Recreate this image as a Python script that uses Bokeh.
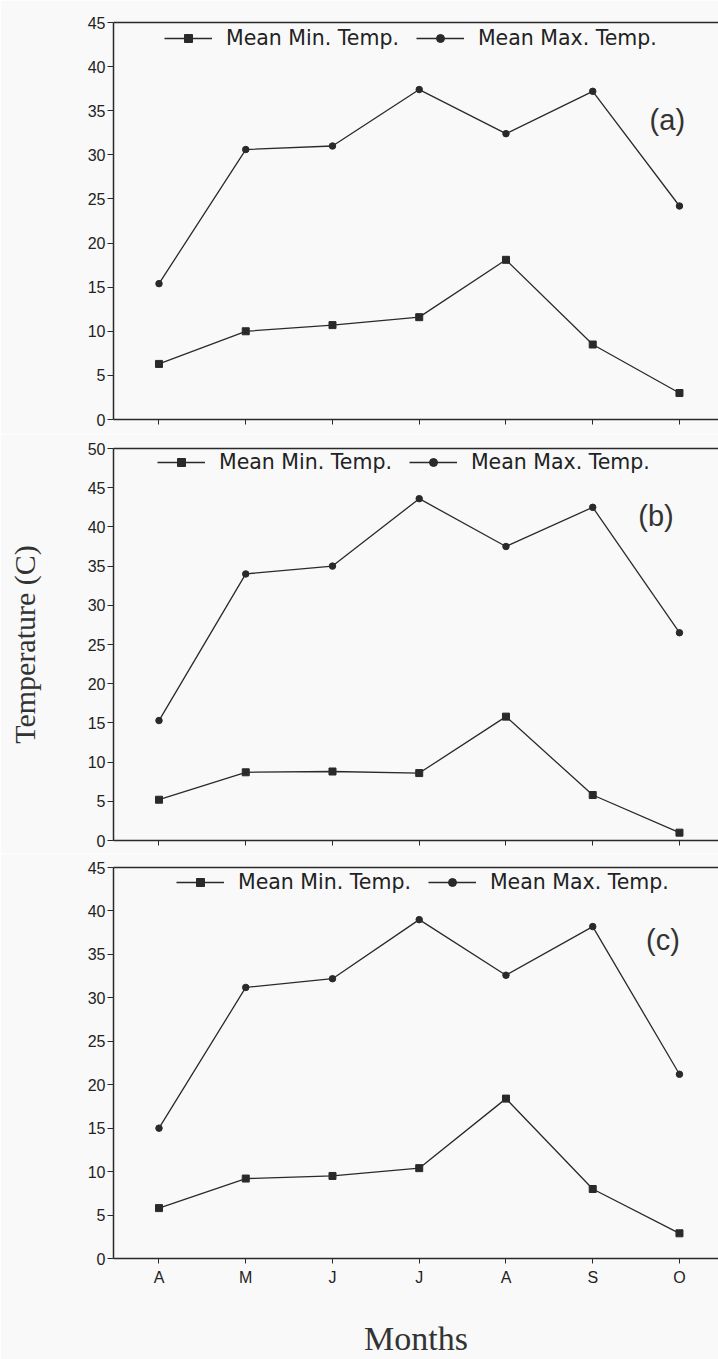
from bokeh.embed import file_html
from bokeh.layouts import column
from bokeh.models import (FixedTicker, Label, Legend, LegendItem, LinearAxis,
                          Range1d)
from bokeh.plotting import figure
from bokeh.resources import INLINE

# Monthly mean temperatures (deg C), April to October
months = ["A", "M", "J", "J", "A", "S", "O"]

a_min = [6.3, 10.0, 10.7, 11.6, 18.1, 8.5, 3.0]
a_max = [15.4, 30.6, 31.0, 37.4, 32.4, 37.2, 24.2]

b_min = [5.2, 8.7, 8.8, 8.6, 15.8, 5.8, 1.0]
b_max = [15.3, 34.0, 35.0, 43.6, 37.5, 42.5, 26.5]

c_min = [5.8, 9.2, 9.5, 10.4, 18.4, 8.0, 2.9]
c_max = [15.0, 31.2, 32.2, 39.0, 32.6, 38.2, 21.2]

BG = "#f9f9f9"
INK = "#2a2a2a"
TICK_FONT = "Liberation Sans"
LEGEND_FONT = "DejaVu Sans"
SERIF = "Liberation Serif"


def make_panel(mins, maxs, ymax, height, top, bottom, legend_xy, tag, tag_xy,
               show_months):
    x = list(range(len(months)))
    p = figure(width=718, height=height,
               x_range=Range1d(-0.5245, 6.45), y_range=Range1d(0, ymax),
               output_backend="svg", toolbar_location=None,
               min_border_left=113, min_border_right=0,
               min_border_top=top, min_border_bottom=bottom,
               background_fill_color=BG, border_fill_color=BG,
               outline_line_color=None)
    p.grid.visible = False

    # y axis with outward ticks every 5 degrees
    ya = p.left[0]
    ya.ticker = FixedTicker(ticks=list(range(0, ymax + 1, 5)))
    ya.major_tick_out = 6
    ya.major_tick_in = 0
    ya.minor_tick_line_color = None
    ya.axis_line_width = 1.5
    ya.axis_line_color = INK
    ya.major_tick_line_color = INK
    ya.major_label_text_font = TICK_FONT
    ya.major_label_text_font_size = "16px"
    ya.major_label_text_color = "#222222"
    ya.major_label_standoff = 2

    # month axis; the upper panels only carry unlabelled tick marks
    xa = p.below[0]
    xa.axis_line_width = 1.5
    xa.axis_line_color = INK
    if show_months:
        xa.ticker = FixedTicker(ticks=x)
        xa.major_tick_out = 5
        xa.major_tick_in = 0
        xa.minor_tick_line_color = None
        xa.major_tick_line_color = INK
        xa.major_label_overrides = {i: m for i, m in enumerate(months)}
        xa.major_label_text_font = TICK_FONT
        xa.major_label_text_font_size = "16px"
        xa.major_label_text_color = "#222222"
        xa.major_label_standoff = 5
    else:
        xa.ticker = FixedTicker(ticks=[-100], minor_ticks=x)
        xa.minor_tick_out = 5
        xa.minor_tick_in = 0
        xa.minor_tick_line_color = INK
        xa.minor_tick_line_width = 1
        xa.major_tick_line_color = None
        xa.major_label_standoff = 0

    # top frame edge
    top_axis = LinearAxis(ticker=FixedTicker(ticks=[]), major_tick_out=0,
                          major_tick_in=0, minor_tick_line_color=None,
                          major_label_standoff=0,
                          axis_line_width=1.5, axis_line_color=INK)
    p.add_layout(top_axis, "above")

    r_min_l = p.line(x, mins, line_color=INK, line_width=1.3)
    r_min_m = p.scatter(x, mins, marker="square", size=7, fill_color=INK,
                        line_color=INK)
    r_max_l = p.line(x, maxs, line_color=INK, line_width=1.3)
    r_max_m = p.scatter(x, maxs, marker="circle", size=6.5, fill_color=INK,
                        line_color=INK)

    legend = Legend(items=[
        LegendItem(label="Mean Min. Temp.", renderers=[r_min_l, r_min_m]),
        LegendItem(label="Mean Max. Temp.", renderers=[r_max_l, r_max_m]),
    ], location=legend_xy, orientation="horizontal",
        glyph_width=48, glyph_height=20, label_height=20,
        label_standoff=14, spacing=17, padding=0, margin=0,
        label_text_font=LEGEND_FONT, label_text_font_size="20.5px",
        label_text_color="#222222",
        background_fill_alpha=0, border_line_color=None)
    p.add_layout(legend)

    p.add_layout(Label(x=tag_xy[0], y=tag_xy[1], text=tag,
                       text_align="center", text_baseline="middle",
                       text_font=TICK_FONT, text_font_size="29px",
                       text_color="#333333"))
    return p, ya, xa


pa, _, _ = make_panel(a_min, a_max, 45, 434, 22, 15, (51, 369), "(a)",
                      (5.86, 34.0), False)
pb, pb_y, _ = make_panel(b_min, b_max, 50, 419, 14, 13, (44, 366), "(b)",
                         (5.73, 41.4), False)
pc, _, pc_x = make_panel(c_min, c_max, 45, 506, 14, 100, (63, 364), "(c)",
                         (5.81, 36.6), True)

# shared axis titles
pb_y.axis_label = "Temperature (C)"
pb_y.axis_label_text_font = SERIF
pb_y.axis_label_text_font_size = "30px"
pb_y.axis_label_text_font_style = "normal"
pb_y.axis_label_text_color = "#333333"
pb_y.axis_label_standoff = 44

pc_x.axis_label = "Months"
pc_x.axis_label_text_font = SERIF
pc_x.axis_label_text_font_size = "34px"
pc_x.axis_label_text_font_style = "normal"
pc_x.axis_label_text_color = "#333333"
pc_x.axis_label_standoff = 31

layout = column(pa, pb, pc, spacing=0)

with open("out.html", "w") as f:
    f.write(file_html(layout, INLINE))
